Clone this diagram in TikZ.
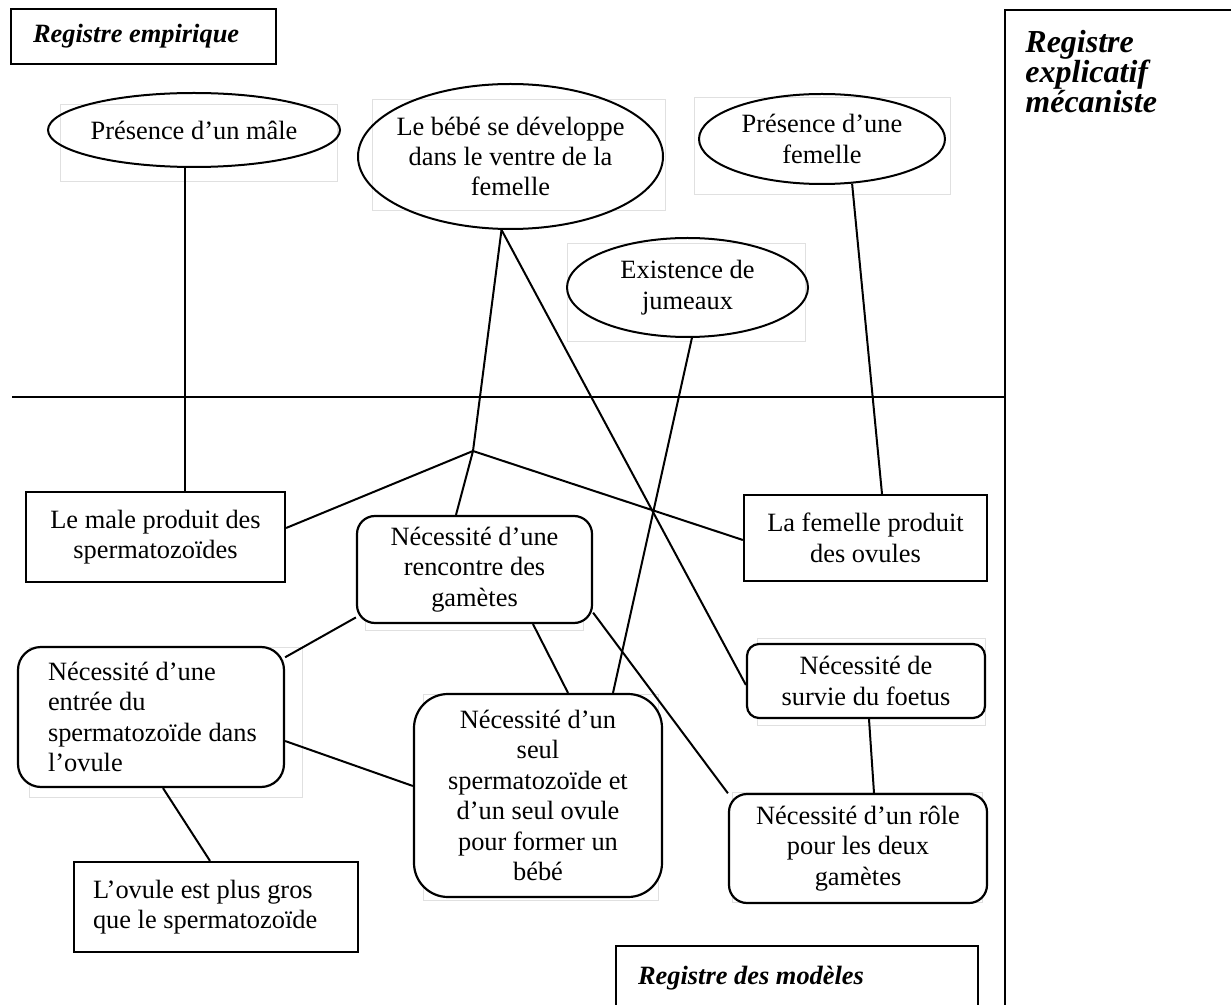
\documentclass[tikz,border=0pt]{standalone}
\usepackage{fontspec}
\setmainfont{Liberation Serif}
\usetikzlibrary{shapes.geometric,calc}
\begin{document}
\begin{tikzpicture}[x=0.5pt,y=-0.5pt,
  every node/.style={inner sep=0pt, font=\fontsize{13.2}{15.2}\selectfont},
  ell/.style={ellipse, draw, line width=1pt, align=center},
  box/.style={rectangle, draw, line width=1.1pt, align=center},
  rbox/.style={rectangle, draw, fill=white, line width=1.1pt, align=center},
  frame/.style={draw=black!12, line width=0.5pt},
  link/.style={line width=1pt},
  head/.style={font=\fontsize{13.2}{15.2}\selectfont\bfseries\itshape},
  bighead/.style={font=\fontsize{16}{15}\selectfont\bfseries\itshape}
]
\useasboundingbox (0,0) rectangle (1231,1005);

% faint text-box frames
\draw[frame] (60,105) rectangle (337,182);
\draw[frame] (372,100) rectangle (665,211);
\draw[frame] (694,98) rectangle (950,195);
\draw[frame] (567,244) rectangle (805,342);
\draw[frame] (29,647) rectangle (302,797);
\draw[frame] (365,520) rectangle (583,630);
\draw[frame] (423,694) rectangle (658,900);
\draw[frame] (757,638) rectangle (985,725);
\draw[frame] (732,792) rectangle (982,902);

% register frames
\node[head, box, anchor=north west, minimum width=132.5pt, minimum height=27.5pt] (emp) at (10,8) {\parbox{110.5pt}{\raggedright Registre empirique}};
\draw[line width=1.1pt] (1005,1010) -- (1005,10) -- (1240,10);
\node[bighead, anchor=north west, align=left] (meca) at (1025,30) {Registre\\explicatif\\mécaniste};
\draw[link] (12,397) -- (1005,397);
\node[head, box, anchor=north west, minimum width=181pt, minimum height=32.5pt] (mod) at (615,945) {\parbox{159pt}{\raggedright Registre des modèles}};

% ellipses
\node[ell, inner xsep=-2pt, minimum width=146pt, minimum height=37pt] (emale) at (194,130) {Présence d’un mâle};
\node[ell, inner xsep=-5pt, minimum width=152.5pt, minimum height=72.5pt] (ebebe) at (510.5,156.5) {Le bébé se développe\\dans le ventre de la\\femelle};
\node[ell, minimum width=123pt, minimum height=45pt] (efem) at (822,139) {Présence d’une\\femelle};
\node[ell, minimum width=120.5pt, minimum height=49.5pt] (ejum) at (687.5,287.5) {Existence de\\jumeaux};

% rectangles
\node[box, minimum width=129.5pt, minimum height=45pt] (bmale) at (155.5,537) {Le male produit des\\spermatozoïdes};
\node[box, minimum width=121.5pt, minimum height=43pt] (bfem) at (865.5,538) {La femelle produit\\des ovules};
\node[box, minimum width=142pt, minimum height=45pt] (bovule) at (216,907) {\parbox{123pt}{\raggedright L’ovule est plus gros\\que le spermatozoïde}};

% rounded boxes
\node[rbox, rounded corners=9pt, minimum width=117.5pt, minimum height=53.5pt] (gam) at (474.5,569.5) {Nécessité d’une\\rencontre des\\gamètes};
\node[rbox, rounded corners=11.5pt, minimum width=133pt, minimum height=70pt] (entree) at (151,717) {\parbox{108pt}{\raggedright\leftskip=2.5pt Nécessité d’une\\entrée du\\spermatozoïde dans\\l’ovule}};
\node[rbox, rounded corners=17pt, minimum width=124pt, minimum height=101.5pt] (seul) at (538,795.5) {Nécessité d’un\\seul\\spermatozoïde et\\d’un seul ovule\\pour former un\\bébé};
\node[rbox, rounded corners=6pt, minimum width=119pt, minimum height=37pt] (survie) at (866,681) {Nécessité de\\survie du foetus};
\node[rbox, rounded corners=9pt, minimum width=129pt, minimum height=54.5pt] (role) at (858,848.5) {Nécessité d’un rôle\\pour les deux\\gamètes};

% connectors
\coordinate (J) at (473,451);
\draw[link] (emale.-104) -- (emale.-104 |- bmale.north);
\draw[link] (ebebe.-97) -- (J) -- ([xshift=-9.25pt]gam.north);
\draw[link] ([yshift=4.5pt]bmale.east) -- (J) -- ([yshift=-1pt]bfem.west);
\draw[link] (ebebe.-97) -- ([yshift=-2pt]survie.west);
\draw[link] (ejum.-85) -- ([xshift=37.5pt]seul.north);
\draw[link] (efem.-56) -- ([xshift=8.25pt]bfem.north);
\draw[link] (gam.202.6) -- (entree.24.4);
\draw[link] ([xshift=29.25pt]gam.south) -- ([xshift=15pt]seul.north);
\draw[link] (gam.-20) -- (role.157.4);
\draw[link] ([yshift=-12pt]entree.east) -- ([yshift=4.75pt]seul.west);
\draw[link] ([xshift=6pt]entree.south) -- ([xshift=-3pt]bovule.north);
\draw[link] ([xshift=1.5pt]survie.south) -- ([xshift=8pt]role.north);
\end{tikzpicture}
\end{document}
